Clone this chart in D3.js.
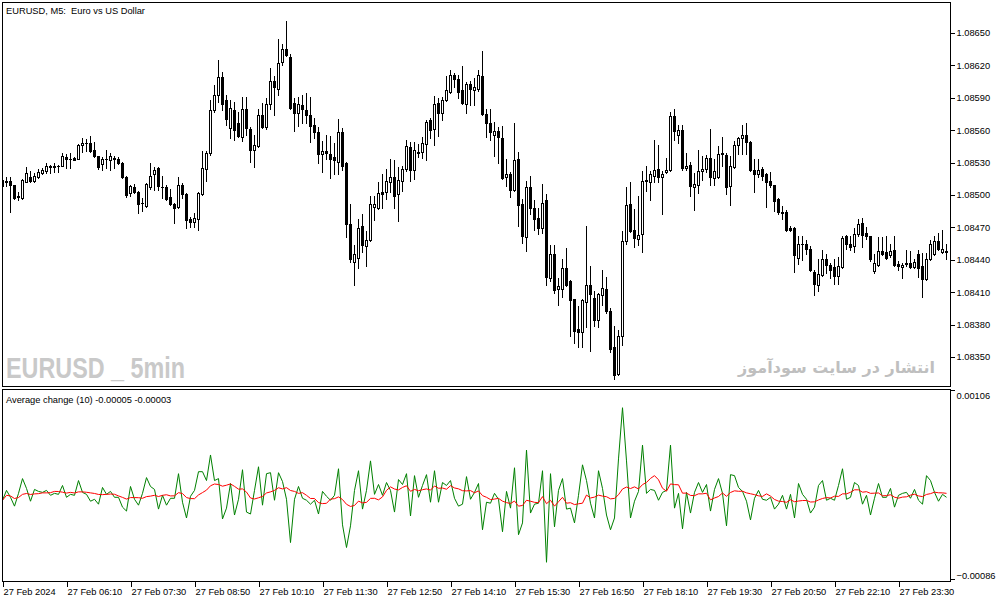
<!DOCTYPE html>
<html><head><meta charset="utf-8">
<script src="https://cdn.jsdelivr.net/npm/d3@7"></script>
<style>
body{margin:0;background:#fff;}
svg{display:block;}
text{font-family:"Liberation Sans",Arial,sans-serif;}
</style>
</head><body>
<svg id="c" width="1003" height="603"></svg>
<script>
// EURUSD M5 candles, 27 Feb 2024 04:50 onwards (237 bars)
const openP=[1.08514,1.08513,1.08513,1.08509,1.08499,1.08497,1.08512,1.08517,1.08513,1.08517,
1.08520,1.08522,1.08527,1.08526,1.08527,1.08527,1.08535,1.08533,1.08534,1.08533,
1.08546,1.08548,1.08548,1.08542,1.08536,1.08529,1.08533,1.08532,1.08534,1.08533,
1.08530,1.08517,1.08502,1.08507,1.08503,1.08493,1.08490,1.08507,1.08519,1.08525,
1.08507,1.08507,1.08498,1.08492,1.08489,1.08509,1.08501,1.08478,1.08475,1.08478,
1.08501,1.08524,1.08539,1.08579,1.08593,1.08609,1.08588,1.08562,1.08579,1.08567,
1.08554,1.08580,1.08561,1.08542,1.08545,1.08574,1.08563,1.08584,1.08606,1.08598,
1.08623,1.08635,1.08628,1.08585,1.08576,1.08583,1.08579,1.08574,1.08565,1.08558,
1.08538,1.08541,1.08538,1.08535,1.08531,1.08558,1.08530,1.08473,1.08438,1.08442,
1.08471,1.08453,1.08458,1.08489,1.08488,1.08503,1.08503,1.08512,1.08517,1.08501,
1.08513,1.08524,1.08544,1.08523,1.08540,1.08540,1.08547,1.08569,1.08561,1.08585,
1.08576,1.08588,1.08595,1.08611,1.08607,1.08597,1.08584,1.08603,1.08597,1.08598,
1.08610,1.08575,1.08567,1.08556,1.08559,1.08553,1.08517,1.08519,1.08505,1.08533,
1.08492,1.08461,1.08507,1.08488,1.08479,1.08469,1.08495,1.08423,1.08445,1.08413,
1.08413,1.08432,1.08420,1.08404,1.08376,1.08373,1.08401,1.08417,1.08405,1.08384,
1.08407,1.08413,1.08393,1.08359,1.08334,1.08369,1.08457,1.08492,1.08468,1.08459,
1.08464,1.08513,1.08512,1.08518,1.08524,1.08517,1.08521,1.08523,1.08573,1.08556,
1.08560,1.08525,1.08528,1.08507,1.08509,1.08522,1.08524,1.08534,1.08516,1.08517,
1.08538,1.08537,1.08508,1.08526,1.08546,1.08553,1.08556,1.08549,1.08523,1.08519,
1.08524,1.08519,1.08513,1.08509,1.08496,1.08484,1.08484,1.08469,1.08469,1.08442,
1.08455,1.08455,1.08450,1.08429,1.08417,1.08426,1.08441,1.08435,1.08433,1.08425,
1.08433,1.08462,1.08455,1.08453,1.08464,1.08474,1.08465,1.08462,1.08430,1.08435,
1.08448,1.08447,1.08444,1.08449,1.08436,1.08433,1.08436,1.08437,1.08433,1.08445,
1.08434,1.08422,1.08441,1.08445,1.08457,1.08447,1.08448];
const highP=[1.08515,1.08517,1.08517,1.08509,1.08503,1.08515,1.08526,1.08522,1.08520,1.08524,
1.08525,1.08530,1.08528,1.08530,1.08528,1.08539,1.08538,1.08539,1.08535,1.08547,
1.08553,1.08552,1.08555,1.08549,1.08536,1.08535,1.08542,1.08539,1.08536,1.08535,
1.08531,1.08518,1.08509,1.08510,1.08504,1.08497,1.08511,1.08530,1.08526,1.08526,
1.08518,1.08509,1.08506,1.08493,1.08517,1.08511,1.08502,1.08480,1.08483,1.08503,
1.08541,1.08541,1.08588,1.08602,1.08625,1.08614,1.08593,1.08588,1.08586,1.08577,
1.08591,1.08591,1.08563,1.08556,1.08580,1.08585,1.08590,1.08618,1.08610,1.08644,
1.08640,1.08661,1.08631,1.08590,1.08591,1.08593,1.08594,1.08591,1.08571,1.08563,
1.08550,1.08556,1.08555,1.08548,1.08570,1.08562,1.08531,1.08492,1.08454,1.08478,
1.08482,1.08467,1.08499,1.08499,1.08512,1.08519,1.08524,1.08533,1.08532,1.08526,
1.08527,1.08551,1.08549,1.08549,1.08547,1.08554,1.08569,1.08571,1.08592,1.08590,
1.08591,1.08610,1.08616,1.08613,1.08611,1.08619,1.08605,1.08606,1.08608,1.08616,
1.08633,1.08580,1.08580,1.08568,1.08563,1.08564,1.08533,1.08521,1.08567,1.08540,
1.08496,1.08513,1.08518,1.08495,1.08488,1.08510,1.08501,1.08454,1.08454,1.08423,
1.08441,1.08451,1.08421,1.08404,1.08397,1.08404,1.08471,1.08434,1.08411,1.08409,
1.08431,1.08424,1.08395,1.08379,1.08375,1.08467,1.08507,1.08512,1.08487,1.08499,
1.08522,1.08527,1.08522,1.08551,1.08546,1.08522,1.08534,1.08577,1.08580,1.08565,
1.08565,1.08539,1.08531,1.08520,1.08542,1.08536,1.08537,1.08561,1.08533,1.08545,
1.08554,1.08539,1.08536,1.08550,1.08554,1.08565,1.08567,1.08550,1.08533,1.08533,
1.08526,1.08520,1.08521,1.08509,1.08497,1.08490,1.08486,1.08471,1.08470,1.08462,
1.08462,1.08458,1.08453,1.08431,1.08441,1.08449,1.08445,1.08437,1.08441,1.08443,
1.08462,1.08463,1.08462,1.08469,1.08478,1.08479,1.08470,1.08462,1.08445,1.08461,
1.08461,1.08462,1.08455,1.08462,1.08439,1.08437,1.08449,1.08448,1.08441,1.08449,
1.08446,1.08446,1.08458,1.08462,1.08465,1.08468,1.08455];
const lowP=[1.08508,1.08508,1.08484,1.08496,1.08495,1.08496,1.08512,1.08512,1.08512,1.08516,
1.08519,1.08520,1.08520,1.08521,1.08521,1.08527,1.08525,1.08525,1.08532,1.08533,
1.08540,1.08541,1.08540,1.08535,1.08524,1.08523,1.08525,1.08523,1.08525,1.08529,
1.08516,1.08498,1.08499,1.08502,1.08483,1.08485,1.08489,1.08506,1.08505,1.08505,
1.08497,1.08495,1.08491,1.08474,1.08488,1.08497,1.08469,1.08470,1.08470,1.08468,
1.08500,1.08513,1.08537,1.08577,1.08586,1.08579,1.08565,1.08553,1.08551,1.08554,
1.08550,1.08556,1.08531,1.08526,1.08544,1.08562,1.08561,1.08580,1.08574,1.08593,
1.08620,1.08629,1.08580,1.08559,1.08564,1.08567,1.08567,1.08549,1.08553,1.08530,
1.08521,1.08533,1.08516,1.08519,1.08519,1.08523,1.08461,1.08438,1.08417,1.08432,
1.08447,1.08434,1.08457,1.08477,1.08487,1.08488,1.08496,1.08503,1.08488,1.08476,
1.08504,1.08522,1.08513,1.08515,1.08535,1.08534,1.08532,1.08553,1.08546,1.08555,
1.08569,1.08587,1.08594,1.08600,1.08590,1.08584,1.08576,1.08583,1.08583,1.08596,
1.08574,1.08554,1.08551,1.08536,1.08530,1.08515,1.08508,1.08498,1.08504,1.08471,
1.08456,1.08448,1.08482,1.08468,1.08464,1.08465,1.08417,1.08420,1.08409,1.08398,
1.08406,1.08416,1.08369,1.08363,1.08359,1.08359,1.08378,1.08356,1.08379,1.08378,
1.08398,1.08391,1.08355,1.08330,1.08333,1.08361,1.08455,1.08466,1.08452,1.08454,
1.08447,1.08504,1.08495,1.08512,1.08512,1.08482,1.08520,1.08522,1.08551,1.08548,
1.08523,1.08523,1.08499,1.08486,1.08502,1.08514,1.08521,1.08509,1.08509,1.08516,
1.08527,1.08501,1.08491,1.08525,1.08538,1.08538,1.08538,1.08522,1.08503,1.08517,
1.08514,1.08489,1.08507,1.08485,1.08482,1.08478,1.08467,1.08467,1.08429,1.08436,
1.08440,1.08445,1.08430,1.08407,1.08411,1.08425,1.08428,1.08423,1.08418,1.08418,
1.08432,1.08450,1.08449,1.08447,1.08462,1.08452,1.08459,1.08439,1.08428,1.08434,
1.08444,1.08441,1.08443,1.08434,1.08431,1.08423,1.08434,1.08432,1.08432,1.08424,
1.08406,1.08421,1.08440,1.08444,1.08449,1.08446,1.08441];
const closeP=[1.08508,1.08512,1.08509,1.08497,1.08498,1.08514,1.08520,1.08513,1.08518,1.08521,
1.08523,1.08527,1.08526,1.08527,1.08527,1.08536,1.08533,1.08533,1.08532,1.08546,
1.08548,1.08548,1.08541,1.08536,1.08526,1.08533,1.08533,1.08536,1.08533,1.08530,
1.08517,1.08500,1.08508,1.08503,1.08492,1.08493,1.08510,1.08518,1.08523,1.08508,
1.08507,1.08496,1.08492,1.08488,1.08509,1.08501,1.08477,1.08475,1.08479,1.08502,
1.08525,1.08539,1.08579,1.08593,1.08609,1.08584,1.08570,1.08581,1.08560,1.08555,
1.08580,1.08562,1.08542,1.08546,1.08574,1.08563,1.08584,1.08606,1.08600,1.08622,
1.08635,1.08630,1.08581,1.08576,1.08584,1.08580,1.08574,1.08564,1.08558,1.08538,
1.08541,1.08539,1.08533,1.08532,1.08558,1.08527,1.08473,1.08441,1.08445,1.08469,
1.08454,1.08458,1.08492,1.08492,1.08502,1.08501,1.08513,1.08517,1.08499,1.08514,
1.08524,1.08545,1.08523,1.08542,1.08539,1.08548,1.08568,1.08560,1.08584,1.08576,
1.08588,1.08597,1.08611,1.08607,1.08595,1.08585,1.08603,1.08598,1.08600,1.08611,
1.08575,1.08567,1.08558,1.08559,1.08554,1.08516,1.08519,1.08505,1.08532,1.08491,
1.08462,1.08507,1.08488,1.08478,1.08469,1.08493,1.08424,1.08445,1.08412,1.08416,
1.08432,1.08417,1.08403,1.08374,1.08373,1.08403,1.08417,1.08408,1.08384,1.08408,
1.08414,1.08393,1.08357,1.08333,1.08369,1.08457,1.08491,1.08467,1.08460,1.08463,
1.08513,1.08514,1.08519,1.08523,1.08517,1.08519,1.08523,1.08573,1.08559,1.08560,
1.08525,1.08527,1.08508,1.08510,1.08522,1.08524,1.08534,1.08517,1.08522,1.08538,
1.08539,1.08507,1.08527,1.08546,1.08553,1.08556,1.08549,1.08523,1.08519,1.08523,
1.08518,1.08512,1.08509,1.08494,1.08484,1.08483,1.08468,1.08468,1.08444,1.08455,
1.08455,1.08450,1.08431,1.08418,1.08427,1.08441,1.08435,1.08431,1.08425,1.08434,
1.08460,1.08455,1.08452,1.08464,1.08473,1.08463,1.08462,1.08441,1.08437,1.08448,
1.08445,1.08442,1.08448,1.08435,1.08434,1.08435,1.08437,1.08433,1.08438,1.08432,
1.08422,1.08441,1.08455,1.08457,1.08450,1.08450,1.08447];

const priceTicks=[1.0835,1.0838,1.0841,1.0844,1.0847,1.0850,1.0853,1.0856,1.0859,1.0862,1.0865];
const subTicks=[0.00106,-0.00086];
const timeTickBars=[0,16,32,48,64,80,96,112,128,144,160,176,192,208,224];
const timeTickLabels=["27 Feb 2024","27 Feb 06:10","27 Feb 07:30","27 Feb 08:50","27 Feb 10:10","27 Feb 11:30","27 Feb 12:50","27 Feb 14:10","27 Feb 15:30","27 Feb 16:50","27 Feb 18:10","27 Feb 19:30","27 Feb 20:50","27 Feb 22:10","27 Feb 23:30"];
const titleText="EURUSD, M5:  Euro vs US Dollar";
const subTitleText="Average change (10) -0.00005 -0.00003";
const watermark1="EURUSD _ 5min";
const watermark2="انتشار در سایت سودآموز";

// indicator: change per bar (green) and its 10-period average (red)
const change=closeP.map((c,i)=>i===0?c-openP[0]:c-closeP[i-1]);
const avgChange=change.map((v,i)=>{const s=change.slice(Math.max(0,i-9),i+1);return d3.mean(s);});

const svg=d3.select("#c");
const FS=9.3;
const L=2.5,R=950.5,T=2.5,MB=386.5,ST=389.5,SB=581.5;

const x=d3.scaleLinear().domain([0,236]).range([2.5,946.5]);
const y=d3.scaleLinear().domain([1.0835,1.0865]).range([357,33]);
const ys=d3.scaleLinear().domain([-0.00086,0.00106]).range([579,390]);

const defs=svg.append("defs");
defs.append("clipPath").attr("id","cm").append("rect").attr("x",3).attr("y",3).attr("width",947).attr("height",383);
defs.append("clipPath").attr("id","cs").append("rect").attr("x",3).attr("y",390).attr("width",947).attr("height",191);

// watermarks
svg.append("text").attr("x",6).attr("y",378).text(watermark1)
  .style("font-family","'Liberation Sans Narrow','Arial Narrow',sans-serif")
  .attr("font-weight","bold").attr("font-size",29).attr("fill","#c9c9c9")
  .attr("textLength",179).attr("lengthAdjust","spacingAndGlyphs");
svg.append("text").attr("x",935).attr("y",373).attr("text-anchor","end")
  .style("font-family","'DejaVu Sans',sans-serif").attr("font-weight","bold")
  .attr("font-size",16).attr("fill","#bfbfbf").text(watermark2);

// candles
const gC=svg.append("g").attr("clip-path","url(#cm)").attr("shape-rendering","crispEdges");
const idx=d3.range(openP.length);
idx.forEach(i=>{
  const cx=x(i);
  const o=openP[i],c=closeP[i],h=highP[i],l=lowP[i];
  const yH=Math.round(y(h)),yL=Math.round(y(l));
  const yT=Math.round(y(Math.max(o,c))),yB=Math.round(y(Math.min(o,c)));
  gC.append("line").attr("x1",cx).attr("x2",cx).attr("y1",yH).attr("y2",yL+1).attr("stroke","#000");
  if(yB===yT){
    gC.append("line").attr("x1",cx-1.5).attr("x2",cx+1.5).attr("y1",yT+0.5).attr("y2",yT+0.5).attr("stroke","#000");
  } else {
    gC.append("rect").attr("x",cx-1).attr("y",yT+0.5).attr("width",2).attr("height",yB-yT)
      .attr("fill",c>=o?"#fff":"#000").attr("stroke","#000");
  }
});

// indicator lines
const gS=svg.append("g").attr("clip-path","url(#cs)");
const line=d3.line().x((d,i)=>x(i)).y(d=>ys(d));
gS.append("path").datum(change).attr("d",line).attr("fill","none").attr("stroke","#008000").attr("stroke-width",1);
gS.append("path").datum(avgChange).attr("d",line).attr("fill","none").attr("stroke","#ff0000").attr("stroke-width",1);

// frames
const gF=svg.append("g").attr("shape-rendering","crispEdges").attr("stroke","#000").attr("fill","none");
gF.append("rect").attr("x",L).attr("y",T).attr("width",R-L).attr("height",MB-T);
gF.append("rect").attr("x",L).attr("y",ST).attr("width",R-L).attr("height",SB-ST);

// price axis
const ax=svg.append("g").attr("transform",`translate(${R},0)`)
  .call(d3.axisRight(y).tickValues(priceTicks).tickSize(4).tickPadding(2).tickFormat(d3.format(".5f")));
ax.select(".domain").remove();
ax.selectAll("text").attr("font-size",FS).style("font-family","'Liberation Sans',Arial,sans-serif").attr("fill","#000");
ax.attr("shape-rendering","crispEdges");

// sub axis
const sx=svg.append("g").attr("transform",`translate(${R},0)`)
  .call(d3.axisRight(ys).tickValues(subTicks).tickSize(4).tickPadding(2).tickFormat(d3.format(".5f")));
sx.select(".domain").remove();
sx.selectAll("text").attr("font-size",FS).style("font-family","'Liberation Sans',Arial,sans-serif").attr("fill","#000")
  .attr("dy",d=>d>0?"0.95em":"-0.05em");
sx.attr("shape-rendering","crispEdges");

// time axis
const tx=svg.append("g").attr("transform",`translate(0,${SB})`)
  .call(d3.axisBottom(x).tickValues(timeTickBars).tickSize(5).tickFormat((d,i)=>timeTickLabels[i]));
tx.select(".domain").remove();
tx.selectAll("text").attr("font-size",FS).style("font-family","'Liberation Sans',Arial,sans-serif").attr("fill","#000")
  .attr("text-anchor","start").attr("x",0.5).attr("y",13.5).attr("dy","0");
tx.attr("shape-rendering","crispEdges");

// titles
svg.append("text").attr("x",6).attr("y",13.5).attr("font-size",FS).style("white-space","pre").attr("fill","#000").text(titleText);
svg.append("text").attr("x",6).attr("y",403).attr("font-size",FS).style("white-space","pre").attr("fill","#000").text(subTitleText);
</script>
</body></html>
